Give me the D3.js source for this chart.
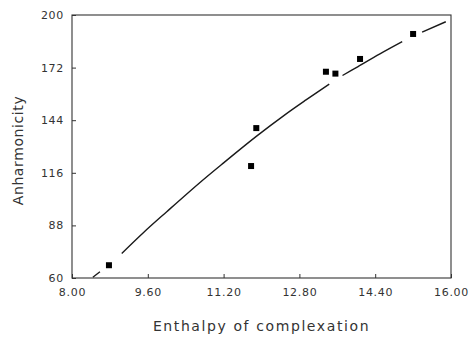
<!DOCTYPE html>
<html><head><meta charset="utf-8">
<script src="https://cdn.jsdelivr.net/npm/d3@7"></script>
<style>body{margin:0;background:#fff}svg{display:block}</style>
</head><body><svg id="c" width="470" height="337"></svg>
<script>
const xTicks = [8.00, 9.60, 11.20, 12.80, 14.40, 16.00];
const yTicks = [60, 88, 116, 144, 172, 200];
const pointX = [8.78, 11.78, 11.89, 13.36, 13.56, 14.08, 15.20];
const pointY = [66.8, 119.6, 139.8, 169.8, 168.8, 176.6, 189.9];
// fitted curve (null = break in the drawn line)
const curveX = [8.44, 8.59, null, 9.05, 9.5, 10.0, 10.69, 11.2, 11.89, 12.5, 12.94, 13.43, null, 13.71, 14.0, 14.5, 14.97, null, 15.39, 15.89];
const curveY = [60.4, 63.3, null, 73.1, 84.0, 95.3, 110.6, 121.3, 135.4, 147.0, 154.8, 163.2, null, 167.8, 172.0, 179.3, 185.8, null, 190.9, 196.4];
const xTitle = "Enthalpy of complexation";
const yTitle = "Anharmonicity";

const svg = d3.select("#c");
const L = 72, R = 451, T = 15, B = 278;
const x = d3.scaleLinear().domain([8, 16]).range([L, R]);
const y = d3.scaleLinear().domain([60, 200]).range([B, T]);
const ink = "#1a1a1a";
const font = "'DejaVu Sans', sans-serif";

// frame
svg.append("rect").attr("x", L).attr("y", T).attr("width", R - L).attr("height", B - T)
  .attr("fill", "none").attr("stroke", "#333").attr("stroke-width", 1.1);

// axes with inward ticks
const xAxis = svg.append("g").attr("transform", `translate(0,${B})`)
  .call(d3.axisBottom(x).tickValues(xTicks).tickSizeInner(-4).tickSizeOuter(0).tickPadding(10).tickFormat(d3.format(".2f")));
const yAxis = svg.append("g").attr("transform", `translate(${L},0)`)
  .call(d3.axisLeft(y).tickValues(yTicks).tickSizeInner(-4).tickSizeOuter(0).tickPadding(8).tickFormat(d3.format("d")));
[xAxis, yAxis].forEach(g => {
  g.select(".domain").remove();
  g.selectAll(".tick line").attr("stroke", "#333");
  g.selectAll(".tick text").attr("fill", "#333").style("font-family", font).style("font-size", "11px").style("letter-spacing", "0.7px");
});

// curve
const data = curveX.map((v, i) => ({x: v, y: curveY[i]}));
svg.append("path").datum(data)
  .attr("fill", "none").attr("stroke", ink).attr("stroke-width", 1.4)
  .attr("d", d3.line().defined(d => d.x !== null).x(d => x(d.x)).y(d => y(d.y)).curve(d3.curveCatmullRom));

// points
const s = 6;
svg.selectAll(".pt").data(pointX.map((v, i) => ({x: v, y: pointY[i]}))).join("rect")
  .attr("x", d => x(d.x) - s / 2).attr("y", d => y(d.y) - s / 2)
  .attr("width", s).attr("height", s).attr("fill", "#000");

// titles
svg.append("text").attr("x", (L + R) / 2).attr("y", 331).attr("text-anchor", "middle")
  .attr("fill", "#333").style("font-family", font).style("font-size", "14px").style("letter-spacing", "1.6px")
  .text(xTitle);
svg.append("text").attr("transform", `translate(23,${(T + B) / 2 + 4}) rotate(-90)`).attr("text-anchor", "middle")
  .attr("fill", "#333").style("font-family", font).style("font-size", "14px").style("letter-spacing", "0.6px")
  .text(yTitle);
</script></body></html>
